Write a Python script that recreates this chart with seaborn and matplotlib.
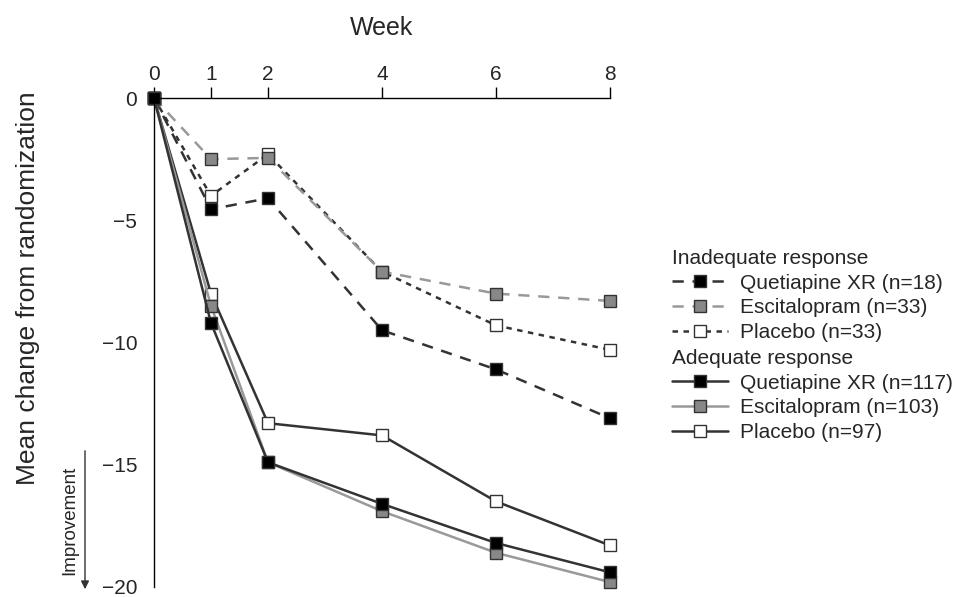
import pandas as pd
import matplotlib
matplotlib.use("Agg")
import matplotlib.pyplot as plt
import seaborn as sns

# weeks on the (top) x axis
weeks = [0, 1, 2, 4, 6, 8]

# inadequate responders (dashed)
inad_quet = [0, -4.55, -4.1, -9.5, -11.1, -13.1]
inad_esc = [0, -2.5, -2.45, -7.1, -8.0, -8.3]
inad_plac = [0, -4.0, -2.3, -7.1, -9.3, -10.3]

# adequate responders (solid)
ad_quet = [0, -9.2, -14.9, -16.6, -18.2, -19.4]
ad_esc = [0, -8.5, -14.9, -16.9, -18.6, -19.8]
ad_plac = [0, -8.0, -13.3, -13.8, -16.5, -18.3]

inad_labels = ["Quetiapine XR (n=18)", "Escitalopram (n=33)", "Placebo (n=33)"]
ad_labels = ["Quetiapine XR (n=117)", "Escitalopram (n=103)", "Placebo (n=97)"]

sns.set_style("white")
plt.rcParams["font.family"] = ["Liberation Sans", "DejaVu Sans"]

dark = "#333333"
grey = "#999999"

fig = plt.figure(figsize=(9.68, 5.97), dpi=100)
ax = fig.add_axes([154 / 968, 1 - 587 / 597, (610 - 154) / 968, (587 - 98) / 597])

# (values, line color, marker fill, linestyle, label)
inad = [
    (inad_quet, dark, "black", (0, (4.5, 3.5)), inad_labels[0]),
    (inad_esc, grey, "#888888", (0, (4.5, 3.5)), inad_labels[1]),
    (inad_plac, dark, "white", (0, (2.2, 2.2)), inad_labels[2]),
]
ad = [
    (ad_quet, dark, "black", "-", ad_labels[0]),
    (ad_esc, grey, "#888888", "-", ad_labels[1]),
    (ad_plac, dark, "white", "-", ad_labels[2]),
]

handles = {}
# draw placebo first, quetiapine last so the black squares sit on top
for group in [inad, ad]:
    for vals, col, fill, ls, lab in reversed(group):
        df = pd.DataFrame({"week": weeks, "change": vals})
        sns.lineplot(data=df, x="week", y="change", ax=ax, color=col, linewidth=1.8,
                     linestyle=ls, marker="s", markersize=9, markerfacecolor=fill,
                     markeredgecolor=dark, markeredgewidth=1.0, clip_on=False, label=lab)
        handles[lab] = ax.lines[-1]

ax.set_xlim(0, 8)
ax.set_ylim(-20, 0)
ax.set_xticks(weeks)
ax.set_yticks([0, -5, -10, -15, -20])
ax.set_yticklabels(["0", "\u22125", "\u221210", "\u221215", "\u221220"])
ax.xaxis.tick_top()
ax.xaxis.set_label_position("top")
ax.set_xlabel("Week", fontsize=18, labelpad=22)
ax.set_ylabel("")
ax.tick_params(axis="both", labelsize=15, length=8, width=1.0, color="black", direction="out")
ax.tick_params(axis="x", pad=2)
ax.tick_params(axis="y", pad=4)
for s in ["right", "bottom"]:
    ax.spines[s].set_visible(False)
for s in ["top", "left"]:
    ax.spines[s].set_color("black")
    ax.spines[s].set_linewidth(1.0)
ax.patch.set_alpha(0)
if ax.get_legend():
    ax.get_legend().remove()

fig.text(28 / 968, 1 - 288 / 597, "Mean change from randomization", rotation=90,
         ha="center", va="center", fontsize=19)

# improvement arrow
fig.text(70 / 968, 1 - 520 / 597, "Improvement", rotation=90, ha="center", va="center", fontsize=13.5)
ax.annotate("", xy=(85 / 968, 1 - 592 / 597), xytext=(85 / 968, 1 - 448 / 597),
            xycoords="figure fraction", textcoords="figure fraction",
            arrowprops=dict(arrowstyle="-|>", color=dark, lw=1.0, mutation_scale=12))

leg_kw = dict(loc="upper left", frameon=False, fontsize=15, title_fontsize=15, alignment="left",
              handlelength=2.7, handletextpad=0.55, labelspacing=0.27, borderpad=0,
              borderaxespad=0)
fig.legend(handles=[handles[l] for l in inad_labels], labels=inad_labels,
           title="Inadequate response", bbox_to_anchor=(672 / 968, 1 - 249 / 597), **leg_kw)
fig.legend(handles=[handles[l] for l in ad_labels], labels=ad_labels,
           title="Adequate response", bbox_to_anchor=(672 / 968, 1 - 349 / 597), **leg_kw)

fig.savefig("out.png", dpi=100)
